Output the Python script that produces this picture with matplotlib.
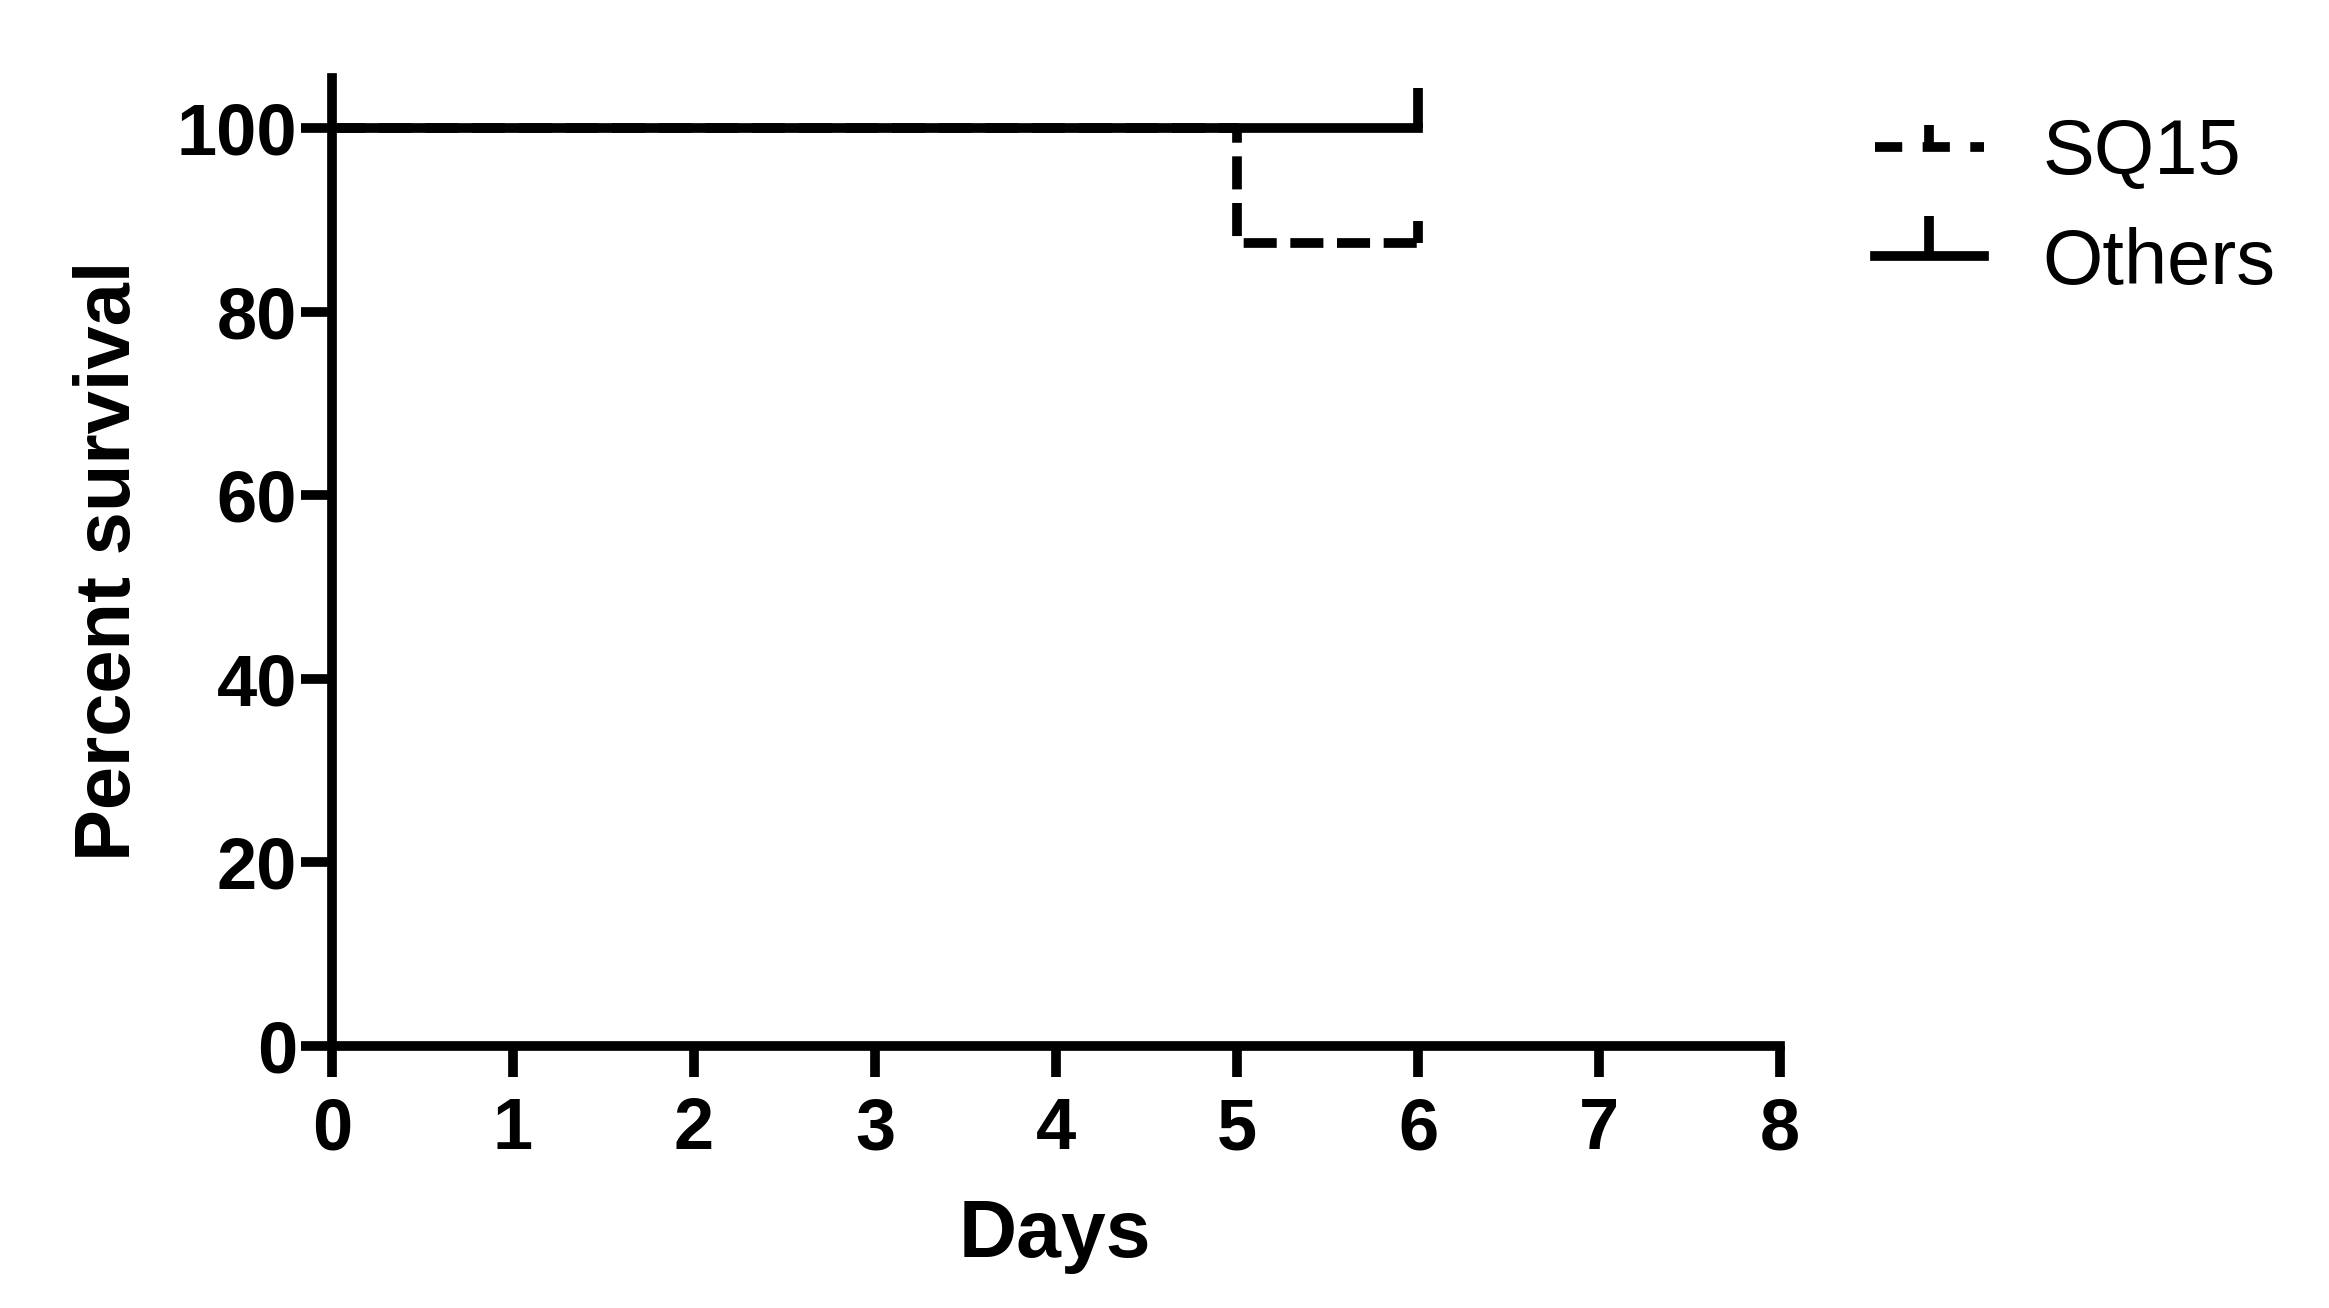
import matplotlib
matplotlib.use("Agg")
import matplotlib.pyplot as plt
from matplotlib.path import Path

plt.rcParams['font.family'] = ['Liberation Sans', 'DejaVu Sans']

# Data (Kaplan-Meier style step curves)
sq15_days = [0, 5, 6]
sq15_surv = [100, 87.5, 87.5]
others_days = [0, 6]
others_surv = [100, 100]
xticks = [0, 1, 2, 3, 4, 5, 6, 7, 8]
yticks = [0, 20, 40, 60, 80, 100]

W, H = 2329, 1308
fig = plt.figure(figsize=(W / 100, H / 100), dpi=100)
ax = fig.add_axes([332 / W, 1 - 1046 / H, (1780 - 332) / W, (1046 - 78) / H])

up_tick = Path([(0, 0), (0, 1)], [Path.MOVETO, Path.LINETO])
LW = 7

l_sq, = ax.step(sq15_days, sq15_surv, where='post', color='black', lw=LW,
                linestyle=(0, (3.4, 1.4)), marker=up_tick, ms=32, mew=LW,
                markevery=[2], label='SQ15', zorder=2)
l_ot, = ax.step(others_days, others_surv, where='post', color='black', lw=LW,
                linestyle='-', marker=up_tick, ms=58, mew=LW,
                markevery=[1], label='Others', zorder=3)

ax.set_xlim(0, 8)
ax.set_ylim(0, 105.5)
ax.set_xticks(xticks)
ax.set_yticks(yticks)
for s in ['top', 'right']:
    ax.spines[s].set_visible(False)
for s in ['left', 'bottom']:
    ax.spines[s].set_linewidth(LW)
ax.tick_params(direction='out', length=22, width=LW, labelsize=52)
ax.tick_params(axis='y', pad=3)
ax.tick_params(axis='x', pad=14)
for lab in ax.get_xticklabels() + ax.get_yticklabels():
    lab.set_fontweight('bold')

fig.text(1055 / W, 1 - 1257 / H, 'Days', fontsize=58, fontweight='bold',
         ha='center', va='baseline')
fig.text(130 / W, 1 - 561 / H, 'Percent survival', fontsize=56, fontweight='bold',
         rotation=90, ha='center', va='baseline', rotation_mode='anchor')

leg = ax.legend(handles=[l_sq, l_ot], loc='upper left',
                bbox_to_anchor=(1875 / W, 1 - 117 / H), bbox_transform=fig.transFigure,
                frameon=False, fontsize=56, handlelength=1.4, handletextpad=0.75,
                labelspacing=0.47, borderpad=0, borderaxespad=0)
try:
    hs = leg.legend_handles
except AttributeError:
    hs = leg.legendHandles
hs[0].set_linestyle((0, (2.8, 2.1)))

fig.savefig('out.png', dpi=100)
